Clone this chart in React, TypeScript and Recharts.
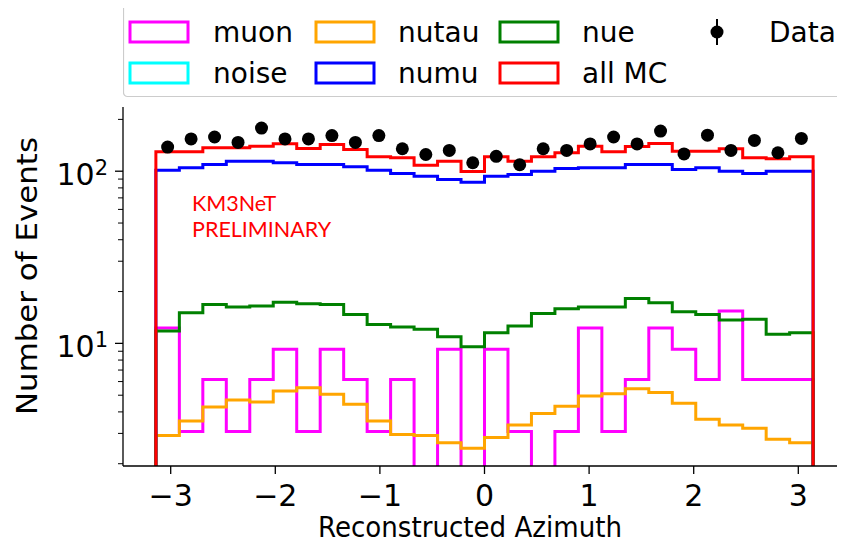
import React from 'react';
import { ComposedChart, Line, Scatter, XAxis, YAxis, Legend } from 'recharts';

// 28 bins from -pi to pi
const binEdges = [
  -3.1416, -2.9172, -2.6928, -2.4684, -2.244, -2.0196, -1.7952, -1.5708, -1.3464, -1.122,
  -0.8976, -0.6732, -0.4488, -0.2244, 0, 0.2244, 0.4488, 0.6732, 0.8976, 1.122,
  1.3464, 1.5708, 1.7952, 2.0196, 2.244, 2.4684, 2.6928, 2.9172, 3.1416,
];

const muon = [12.3, 3.08, 6.16, 3.08, 6.16, 9.24, 3.08, 9.24, 6.16, 3.08, 6.16, 0, 9.24, 0,
  9.24, 3.08, 0, 3.08, 12.3, 3.08, 6.16, 12.3, 9.24, 6.16, 15.4, 6.16, 6.16, 6.16];
const noise = [0, 0, 0, 0, 0, 0, 0, 0, 0, 0, 0, 0, 0, 0, 0, 0, 0, 0, 0, 0, 0, 0, 0, 0, 0, 0, 0, 0];
const nutau = [2.92, 3.54, 4.27, 4.69, 4.56, 5.29, 5.53, 5.06, 4.43, 3.54, 2.96, 2.92, 2.65, 2.46,
  2.84, 3.36, 3.91, 4.32, 4.94, 5.1, 5.46, 5.18, 4.49, 3.62, 3.36, 3.21, 2.77, 2.65];
const numu = [101.3, 104.6, 109.4, 114.3, 114.3, 111.9, 109.4, 109.4, 106.1, 101.3, 97, 93.5, 89.5, 86.4,
  93.5, 95.7, 100, 103.7, 104.6, 104.6, 109.4, 109.4, 102.3, 104.6, 100, 97, 100, 100];
const nue = [11.8, 15.07, 16.84, 16.24, 16.46, 17.36, 17.0, 16.84, 14.73, 12.89, 12.43, 12.06, 10.94, 9.57,
  11.53, 12.6, 14.93, 15.9, 16.24, 16.24, 18.24, 17.2, 15.27, 14.73, 13.65, 13.8, 11.28, 11.53];
const allMC = [129.6, 129.6, 136.7, 136.7, 139.7, 144.2, 135.4, 142.9, 133.6, 121.2, 119.6, 108.4, 114.3, 99.6,
  121.2, 114.3, 121.2, 127.9, 139.7, 129.6, 139.1, 144.8, 130.6, 130.6, 134.9, 119.6, 118, 121.2];
const dataCounts = [138, 154, 158, 147, 178, 154, 154, 161, 147, 161, 135, 125, 132, 112,
  122, 109, 135, 132, 144, 158, 144, 171, 126, 162, 132, 151, 128, 155];

const xTicks = [-3, -2, -1, 0, 1, 2, 3];
const yTicks = [2, 3, 4, 5, 6, 7, 8, 9, 10, 20, 30, 40, 50, 60, 70, 80, 90, 100, 200];
const yMajor: Record<number, string> = { 10: '1', 100: '2' };

const X_DOMAIN: [number, number] = [-3.456, 3.456];
const Y_DOMAIN: [number, number] = [1.94, 236];
const FLOOR = 0.5;

const FONT = '"DejaVu Sans", sans-serif';

function stepPoints(vals: number[]) {
  const n = vals.length;
  const pts: { x: number; y: number }[] = [{ x: binEdges[0], y: FLOOR }];
  vals.forEach((v, i) => pts.push({ x: binEdges[i], y: v > 0 ? v : FLOOR }));
  const last = vals[n - 1] > 0 ? vals[n - 1] : FLOOR;
  pts.push({ x: binEdges[n], y: last });
  pts.push({ x: binEdges[n], y: FLOOR });
  return pts;
}

const dataPoints = dataCounts.map((c, i) => ({ x: (binEdges[i] + binEdges[i + 1]) / 2, y: c }));

const series = [
  { name: 'muon', vals: muon, color: '#ff00ff' },
  { name: 'noise', vals: noise, color: '#00ffff' },
  { name: 'nutau', vals: nutau, color: '#ffa500' },
  { name: 'numu', vals: numu, color: '#0000ff' },
  { name: 'nue', vals: nue, color: '#008000' },
  { name: 'all MC', vals: allMC, color: '#ff0000' },
];

const XTick = (props: any) => {
  const { x, y, payload } = props;
  const v = payload.value;
  const label = v < 0 ? '\u2212' + Math.abs(v) : String(v);
  return (
    <g>
      <line x1={x} x2={x} y1={y} y2={y + 8} stroke="#000" strokeWidth={1.3} />
      <text x={x} y={y + 40} textAnchor="middle" fontFamily={FONT} fontSize={30} fill="#000">
        {label}
      </text>
    </g>
  );
};

const YTick = (props: any) => {
  const { x, y, payload } = props;
  const v = payload.value;
  const sup = yMajor[v];
  if (!sup) {
    return <line x1={x} x2={x - 5} y1={y} y2={y} stroke="#000" strokeWidth={1} />;
  }
  return (
    <g>
      <line x1={x} x2={x - 8} y1={y} y2={y} stroke="#000" strokeWidth={1.3} />
      <text x={x - 15} y={y + 13.3} textAnchor="end" fontFamily={FONT} fontSize={30} fill="#000">
        <tspan>10</tspan>
        <tspan dy={-10} fontSize={21}>{sup}</tspan>
      </text>
    </g>
  );
};

const LegendBox = () => {
  const cols = [7, 193, 377];
  const textX = [90, 275, 459];
  const rows = [18, 59];
  const items = [
    { name: 'muon', color: '#ff00ff', c: 0, r: 0 },
    { name: 'noise', color: '#00ffff', c: 0, r: 1 },
    { name: 'nutau', color: '#ffa500', c: 1, r: 0 },
    { name: 'numu', color: '#0000ff', c: 1, r: 1 },
    { name: 'nue', color: '#008000', c: 2, r: 0 },
    { name: 'all MC', color: '#ff0000', c: 2, r: 1 },
  ];
  return (
    <svg width={722} height={95} style={{ display: 'block' }}>
      <rect x={0.5} y={0.5} width={719} height={92} rx={4} fill="#fff" fillOpacity={0.8} stroke="#cccccc" strokeWidth={1.2} />
      {items.map((it) => (
        <g key={it.name}>
          <rect x={cols[it.c]} y={rows[it.r]} width={58} height={20} fill="none" stroke={it.color} strokeWidth={3} />
          <text x={textX[it.c]} y={rows[it.r] + 20} fontFamily={FONT} fontSize={28} fill="#000">
            {it.name}
          </text>
        </g>
      ))}
      <line x1={594} x2={594} y1={15} y2={41} stroke="#000" strokeWidth={2} />
      <circle cx={594} cy={28} r={6.5} fill="#000" />
      <text x={646} y={38} fontFamily={FONT} fontSize={28} fill="#000">Data</text>
    </svg>
  );
};

const Dot = (props: any) => <circle cx={props.cx} cy={props.cy} r={6.5} fill="#000" />;

export default function App() {
  return (
    <div style={{ position: 'relative', width: 845, height: 537 }}>
      <style>{'html,body{overflow:hidden}'}</style>
      <ComposedChart width={845} height={537} margin={{ top: 99, right: 7, bottom: 0, left: 0 }}>
        <XAxis
          dataKey="x"
          type="number"
          domain={X_DOMAIN}
          allowDataOverflow
          ticks={xTicks}
          interval={0}
          height={79}
          tickSize={0}
          tickMargin={0}
          tickLine={false}
          tick={<XTick />}
          axisLine={{ stroke: '#000', strokeWidth: 1.3 }}
          label={{
            content: () => (
              <text x={462} y={529} textAnchor="middle" fontFamily={FONT} fontSize={28} fill="#000"
                textLength={304} lengthAdjust="spacingAndGlyphs">
                Reconstructed Azimuth
              </text>
            ),
          }}
        />
        <XAxis
          xAxisId="top"
          orientation="top"
          type="number"
          domain={X_DOMAIN}
          allowDataOverflow
          height={0}
          tick={false}
          tickLine={false}
          axisLine={{ stroke: '#000', strokeWidth: 1.3 }}
        />
        <YAxis
          type="number"
          scale="log"
          domain={Y_DOMAIN}
          allowDataOverflow
          ticks={yTicks}
          interval={0}
          width={115}
          tickSize={0}
          tickMargin={0}
          tickLine={false}
          tick={<YTick />}
          axisLine={{ stroke: '#000', strokeWidth: 1.3 }}
          label={{
            content: () => (
              <text x={29} y={268} transform="rotate(-90, 29, 268)" textAnchor="middle" fontFamily={FONT}
                fontSize={28} fill="#000" textLength={278} lengthAdjust="spacingAndGlyphs">
                Number of Events
              </text>
            ),
          }}
        />
        <YAxis
          yAxisId="right"
          orientation="right"
          type="number"
          scale="log"
          domain={Y_DOMAIN}
          allowDataOverflow
          width={0}
          tick={false}
          tickLine={false}
          axisLine={{ stroke: '#000', strokeWidth: 1.3 }}
        />
        {series.map((s) => (
          <Line
            key={s.name}
            data={stepPoints(s.vals)}
            dataKey="y"
            name={s.name}
            type="stepAfter"
            stroke={s.color}
            strokeWidth={3}
            dot={false}
            activeDot={false}
            isAnimationActive={false}
          />
        ))}
        <Scatter data={dataPoints} dataKey="y" name="Data" fill="#000" shape={<Dot />} isAnimationActive={false} />
        <Legend
          layout="horizontal"
          verticalAlign="middle"
          align="center"
          wrapperStyle={{ top: -4, left: 115, width: 722, height: 95 }}
          content={() => <LegendBox />}
        />
      </ComposedChart>
      <div
        style={{
          position: 'absolute',
          left: 184,
          top: 182,
          fontFamily: 'Lato, sans-serif',
          fontSize: 21.5,
          lineHeight: '26px',
          color: '#ff0000',
          whiteSpace: 'pre',
        }}
      >
        {'KM3NeT\nPRELIMINARY'}
      </div>
    </div>
  );
}
